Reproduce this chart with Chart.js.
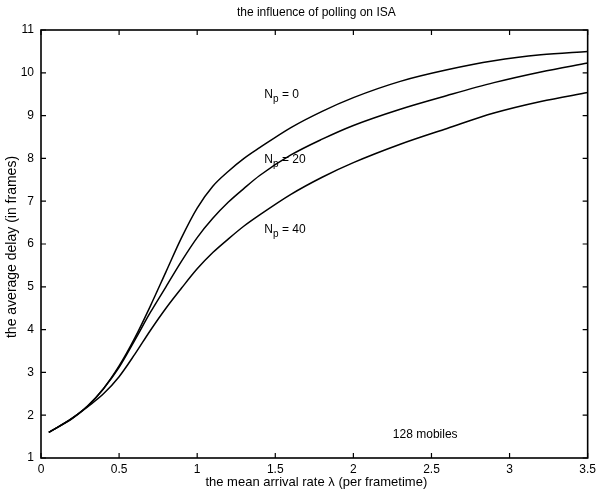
<!DOCTYPE html>
<html>
<head>
<meta charset="utf-8">
<script src="https://cdn.jsdelivr.net/npm/chart.js@4.4.1/dist/chart.umd.min.js"></script>
<style>
html,body{margin:0;padding:0;background:#fff;}
#wrap{width:600px;height:489px;}
</style>
</head>
<body>
<div id="wrap"><canvas id="c" width="600" height="489"></canvas></div>
<script>
const xs   = [0.05, 0.2, 0.3, 0.4, 0.5, 0.6, 0.7, 0.8, 0.9, 1.0, 1.1, 1.2, 1.3, 1.4, 1.6, 1.8, 2.0, 2.3, 2.6, 2.9, 3.2, 3.5];
const np0  = [1.6, 1.93, 2.22, 2.62, 3.15, 3.8, 4.55, 5.35, 6.15, 6.84, 7.35, 7.7, 8.0, 8.25, 8.72, 9.1, 9.42, 9.8, 10.07, 10.28, 10.42, 10.5];
const np20 = [1.6, 1.93, 2.22, 2.62, 3.12, 3.75, 4.4, 5.0, 5.6, 6.15, 6.6, 6.98, 7.3, 7.6, 8.08, 8.45, 8.77, 9.15, 9.47, 9.77, 10.02, 10.23];
const np40 = [1.6, 1.92, 2.2, 2.5, 2.9, 3.42, 3.98, 4.5, 4.97, 5.42, 5.8, 6.12, 6.42, 6.68, 7.16, 7.56, 7.9, 8.33, 8.7, 9.06, 9.33, 9.54];
const xTicks = [0, 0.5, 1, 1.5, 2, 2.5, 3, 3.5];
const yTicks = [1, 2, 3, 4, 5, 6, 7, 8, 9, 10, 11];
const curveLabels = [
  {sub: 'p', text: ' = 0',  x: 1.43, y: 9.49},
  {sub: 'p', text: ' = 20', x: 1.43, y: 7.97},
  {sub: 'p', text: ' = 40', x: 1.43, y: 6.34}
];
const noteText = '128 mobiles';
const notePos = {x: 2.46, y: 1.54};
const titleText = 'the influence of polling on ISA';
const xTitle = 'the mean arrival rate \u03bb (per frametime)';
const yTitle = 'the average delay (in frames)';

const FONT = '"Liberation Sans", Arial, sans-serif';

function pts(arr){ return xs.map((x,i)=>({x:x, y:arr[i]})); }
function ds(label, arr){
  return {label: label, data: pts(arr), borderColor:'#000', borderWidth:1.5,
          pointRadius:0, fill:false, cubicInterpolationMode:'monotone'};
}

const framePlugin = {
  id: 'frame',
  afterDatasetsDraw(chart){
    const ctx = chart.ctx, a = chart.chartArea;
    const sx = chart.scales.x, sy = chart.scales.y;
    ctx.save();
    ctx.strokeStyle = '#000';
    ctx.lineWidth = 1.6;
    ctx.strokeRect(a.left, a.top, a.right - a.left, a.bottom - a.top);
    ctx.lineWidth = 1.2;
    const L = 5;
    ctx.beginPath();
    xTicks.forEach(v=>{
      const px = sx.getPixelForValue(v);
      ctx.moveTo(px, a.bottom); ctx.lineTo(px, a.bottom - L);
      ctx.moveTo(px, a.top); ctx.lineTo(px, a.top + L);
    });
    yTicks.forEach(v=>{
      const py = sy.getPixelForValue(v);
      ctx.moveTo(a.left, py); ctx.lineTo(a.left + L, py);
      ctx.moveTo(a.right, py); ctx.lineTo(a.right - L, py);
    });
    ctx.stroke();

    ctx.fillStyle = '#000';
    ctx.textBaseline = 'middle';
    ctx.textAlign = 'left';
    curveLabels.forEach(l=>{
      let px = sx.getPixelForValue(l.x), py = sy.getPixelForValue(l.y);
      ctx.font = '12px ' + FONT;
      ctx.fillText('N', px, py);
      px += ctx.measureText('N').width;
      ctx.font = '10px ' + FONT;
      ctx.fillText(l.sub, px, py + 5);
      px += ctx.measureText(l.sub).width;
      ctx.font = '12px ' + FONT;
      ctx.fillText(l.text, px, py);
    });
    ctx.textAlign = 'center';
    ctx.font = '12px ' + FONT;
    ctx.fillText(noteText, sx.getPixelForValue(notePos.x), sy.getPixelForValue(notePos.y));

    // titles
    const cx = (a.left + a.right) / 2 + 2;
    ctx.font = '12px ' + FONT;
    ctx.fillText(titleText, cx, 13);
    ctx.font = '13px ' + FONT;
    ctx.fillText(xTitle, cx, 482);
    ctx.translate(12, (a.top + a.bottom) / 2 + 3);
    ctx.rotate(-Math.PI / 2);
    ctx.font = '14px ' + FONT;
    ctx.fillText(yTitle, 0, 0);
    ctx.restore();
  }
};

new Chart(document.getElementById('c'), {
  type: 'line',
  data: { datasets: [ds('Np = 0', np0), ds('Np = 20', np20), ds('Np = 40', np40)] },
  options: {
    responsive: false,
    animation: false,
    layout: { padding: { left: 0, right: 10, top: 30, bottom: 0 } },
    plugins: {
      legend: { display: false },
      tooltip: { enabled: false },
      title: { display: false }
    },
    scales: {
      x: {
        type: 'linear', min: 0, max: 3.5,
        afterBuildTicks: s => { s.ticks = xTicks.map(v=>({value:v})); },
        afterFit: s => { s.height = 31; },
        grid: { display: false, drawTicks: false }, border: { display: false },
        ticks: { color: '#000', padding: 4, maxRotation: 0, autoSkip: false,
                 font: { family: FONT, size: 12 }, callback: v => String(v) }
      },
      y: {
        type: 'linear', min: 1, max: 11,
        afterBuildTicks: s => { s.ticks = yTicks.map(v=>({value:v})); },
        afterFit: s => { s.width = 41; },
        grid: { display: false, drawTicks: false }, border: { display: false },
        ticks: { color: '#000', padding: 7, autoSkip: false,
                 font: { family: FONT, size: 12 } }
      }
    }
  },
  plugins: [framePlugin]
});
</script>
</body>
</html>
